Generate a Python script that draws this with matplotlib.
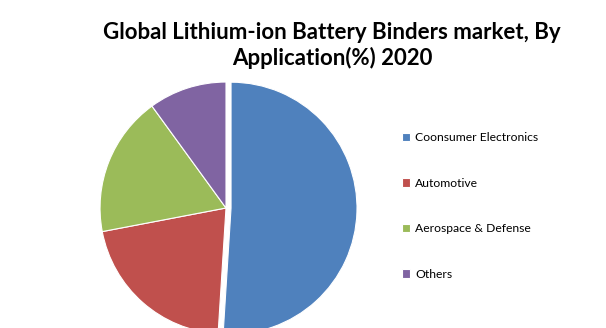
import matplotlib.pyplot as plt

plt.rcParams['font.family'] = ['Lato', 'DejaVu Sans']

labels = ['Coonsumer Electronics', 'Automotive', 'Aerospace & Defense', 'Others']
shares = [51, 21, 18, 10]
colors = ['#4F81BD', '#C0504D', '#9BBB59', '#8064A2']
explode = [0.04, 0, 0, 0]

fig = plt.figure(figsize=(6.06, 3.28), dpi=100)

# square axes so that one unit of radius is about 126 px
ax = fig.add_axes([96/606, -10/328, 260/606, 260/328])
wedges, _ = ax.pie(shares, colors=colors, explode=explode, startangle=90,
                   counterclock=False, radius=1,
                   wedgeprops={'edgecolor': 'white', 'linewidth': 0.8})
ax.set_xlim(-1.032, 1.032)
ax.set_ylim(-1.032, 1.032)
ax.set_aspect('equal')
ax.axis('off')

fig.text(0.548, 0.862, 'Global Lithium-ion Battery Binders market, By\nApplication(%) 2020',
         ha='center', va='center', fontsize=16, fontweight='bold', linespacing=1.2)

fig.legend(wedges, labels, loc='upper left', bbox_to_anchor=(0.645, 0.63),
           frameon=False, fontsize=8.7, handlelength=0.7, handleheight=0.7,
           handletextpad=0.4, labelspacing=2.85)

fig.savefig('out.png', dpi=100)
